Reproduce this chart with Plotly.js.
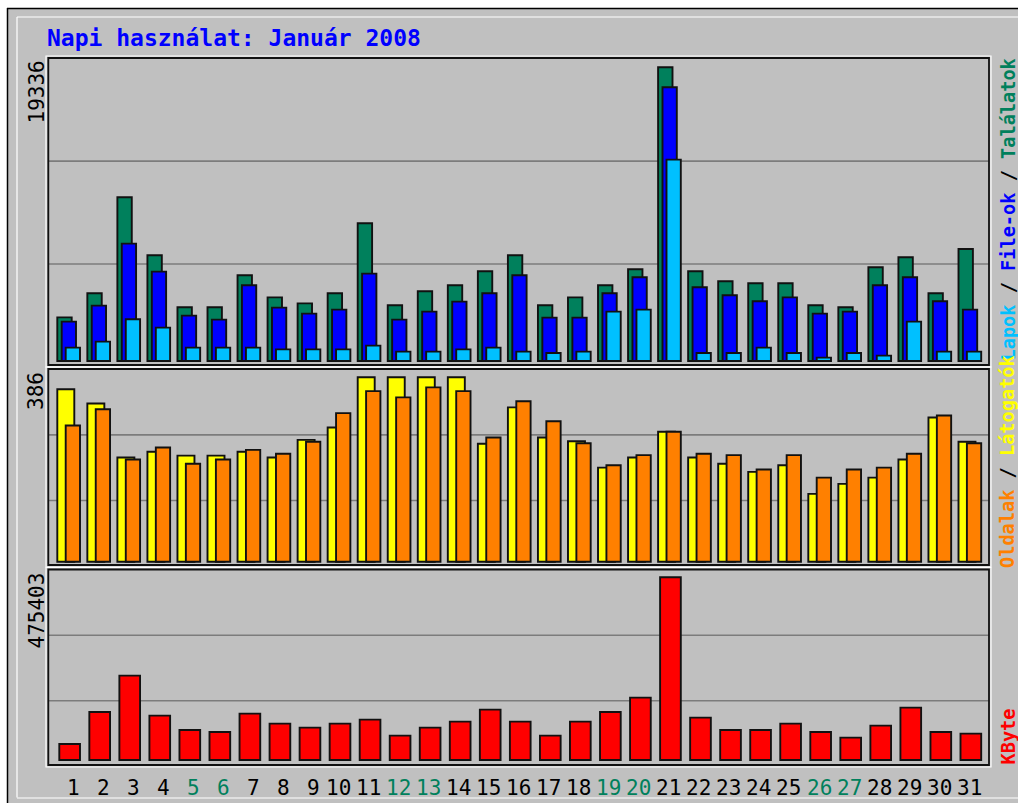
<!DOCTYPE html>
<html>
<head>
<meta charset="utf-8">
<script src="https://cdn.plot.ly/plotly-3.0.1.min.js"></script>
<style>
html,body{margin:0;padding:0;background:#ffffff;}
#chart{width:1018px;height:803px;}
</style>
</head>
<body>
<div id="chart"></div>
<script>
// ---------------- DATA ----------------
const titleText = "Napi használat: Január 2008";
const days = [1,2,3,4,5,6,7,8,9,10,11,12,13,14,15,16,17,18,19,20,21,22,23,24,25,26,27,28,29,30,31];
const weekendDays = [5,6,12,13,19,20,26,27];
const hits   = [2875,4456,10777,6958,3534,3534,5641,4192,3797,4456,9065,3666,4588,4983,5905,6958,3666,4192,4983,6036,19336,5905,5246,5114,5114,3666,3534,6168,6826,4456,7375];
const files  = [2590,3644,7726,5883,2985,2722,4983,3512,3117,3380,5751,2722,3249,3907,4456,5641,2854,2854,4456,5509,18021,4851,4324,3929,4192,3117,3249,4983,5509,3929,3380];
const pages  = [878,1273,2744,2195,878,878,878,768,768,768,1010,615,615,768,878,615,527,615,3249,3380,13258,527,527,878,527,220,527,351,2590,615,615];
const visits = [361,331,218,230,222,222,230,218,255,281,386,386,386,386,247,323,260,252,197,218,272,218,205,188,202,142,163,176,214,302,251];
const sites  = [285,319,214,239,205,214,234,226,251,311,357,344,365,357,260,336,294,248,202,223,272,226,223,193,223,176,193,197,226,306,248];
const kbytes = [41635,124906,219452,115364,78066,72862,120569,94547,84138,94547,104955,63320,84138,99751,130977,99751,63320,99751,124906,162204,475403,110160,78066,78066,94547,72862,58116,89342,136182,72862,68525];
const labelHits  = ["Lapok","File-ok","Találatok"];
const labelVisit = ["Oldalak","Látogatók"];
const labelKB    = "KByte";

// ---------------- LAYOUT GEOMETRY ----------------
const W = 1018, H = 803;
const mL = 48, mR = 29, mT = 58, mB = 38;
const pW = W - mL - mR, pH = H - mT - mB;
const xp = px => (px - mL) / pW;
const yp = py => (H - mB - py) / pH;

const C = {hits:'#00805c', files:'#0000ff', pages:'#00c0ff', visits:'#ffff00', sites:'#ff8000', kb:'#ff0000'};
const mono = 'DejaVu Sans Mono, Liberation Mono, monospace';

// panels: [topPx, bottomPx, zeroPx, maxPx]
const panels = [
  {top:58,    bot:365, zero:361,   maxPx:67.3,  max:Math.max(...hits)},
  {top:369,   bot:565, zero:561.7, maxPx:377.3, max:Math.max(...visits)},
  {top:569.5, bot:765, zero:760,   maxPx:577.3, max:Math.max(...kbytes)}
];
function rangeFor(p){
  const s = p.max / (p.zero - p.maxPx);
  return [-(p.bot - p.zero) * s, (p.zero - p.top) * s];
}
function domainFor(p){ return [Math.max(0, yp(p.bot)), Math.min(1, yp(p.top))]; }

// x mapping: bar group centre px for day 1 = 70, pitch 30.04 px
const pitch = 30.04;
const xa = 1 - (70 - mL) / pitch;
const xb = xa + pW / pitch;
const u = px => px / pitch;

function bar(y, yaxis, color, offPx, wPx){
  return {type:'bar', x:days, y:y, yaxis:yaxis, offset:u(offPx), width:u(wPx),
    marker:{color:color, opacity:1, line:{color:'#111111', width:1.9}},
    hoverinfo:'skip', showlegend:false};
}

const data = [
  bar(hits,  'y',  C.hits,  -12.7, 14.4),
  bar(files, 'y',  C.files, -8.3,  14.3),
  bar(pages, 'y',  C.pages, -4.3,  14.3),
  bar(visits,'y2', C.visits,-12.7, 17.0),
  bar(sites, 'y2', C.sites, -4.3,  14.3),
  bar(kbytes,'y3', C.kb,    -10.7, 20.7)
];

// ---------------- SHAPES ----------------
const shapes = [];
function pline(x0,y0,x1,y1,color,w,layer){
  shapes.push({type:'line', xref:'paper', yref:'paper', x0:xp(x0), y0:yp(y0), x1:xp(x1), y1:yp(y1),
    line:{color:color, width:w}, layer:layer||'above'});
}
function prect(x0,y0,x1,y1,fill,lineColor,w,layer){
  shapes.push({type:'rect', xref:'paper', yref:'paper', x0:xp(x0), y0:yp(y0), x1:xp(x1), y1:yp(y1),
    fillcolor:fill||'rgba(0,0,0,0)', line:{color:lineColor||'rgba(0,0,0,0)', width:w||0}, layer:layer||'above'});
}
// outer white margin and frame
prect(0,0,7,H,'#ffffff',null,0,'above');
prect(0,0,W,8,'#ffffff',null,0,'above');
pline(7.5,8,7.5,H,'#000000',1.5);
pline(7,8.5,W,8.5,'#000000',1.5);
pline(17,17,W,17,'#ffffff',1.2);
pline(17,17,17,797.5,'#ffffff',1.2);
pline(17,798,W,798,'#ffffff',1.2);

// gridlines + panel borders
const axNames = ['y','y2','y3'];
panels.forEach((p,i)=>{
  [0.329, 0.664].forEach(f=>{
    shapes.push({type:'line', xref:'paper', yref:axNames[i]+' domain', x0:0, x1:1, y0:f, y1:f,
      line:{color:'#7c7c7c', width:1.6}, layer:'below'});
  });
  prect(46, p.top-2, 991, p.bot+2, null, '#ffffff', 1.2, 'above');
  prect(48.3, p.top, 989, p.bot, null, '#111111', 1.8, 'above');
});

// ---------------- ANNOTATIONS ----------------
const ann = [];
ann.push({text:titleText, xref:'paper', yref:'paper', x:xp(45), y:yp(38), xanchor:'left', yanchor:'middle',
  showarrow:false, font:{family:mono, size:23, color:'#0000ff', weight:'bold'}});

panels.forEach(p=>{
  ann.push({text:String(p.max), xref:'paper', yref:'paper', x:xp(36), y:yp(p.top+1), xanchor:'center', yanchor:'top',
    textangle:-90, showarrow:false, font:{family:mono, size:21, color:'#000000'}});
});

const sp = (c,t)=>'<span style="color:'+c+'">'+t+'</span>';
const rightLabels = [
  {text: sp(C.pages,labelHits[0])+' / '+sp(C.files,labelHits[1])+' / '+sp(C.hits,labelHits[2]), bottom:363},
  {text: sp(C.sites,labelVisit[0])+' / '+sp(C.visits,labelVisit[1]), bottom:570},
  {text: sp(C.kb,labelKB), bottom:767}
];
rightLabels.forEach(r=>{
  ann.push({text:r.text, xref:'paper', yref:'paper', x:xp(1007.5), y:yp(r.bottom), xanchor:'center', yanchor:'bottom',
    textangle:-90, showarrow:false, font:{family:mono, size:18.6, color:'#000000', weight:'bold'}});
});

days.forEach(d=>{
  const s = String(d);
  ann.push({text:s, xref:'x', yref:'paper', x:d, y:yp(787.5), xanchor:'center', yanchor:'middle',
    xshift: s.length===1 ? 3 : -2, showarrow:false,
    font:{family:mono, size:21, color: weekendDays.includes(d) ? '#00805c' : '#000000'}});
});

const layout = {
  width:W, height:H,
  margin:{l:mL, r:mR, t:mT, b:mB, pad:0},
  paper_bgcolor:'#c0c0c0', plot_bgcolor:'#c0c0c0',
  barmode:'overlay', showlegend:false, hovermode:false,
  xaxis:{range:[xa,xb], showgrid:false, zeroline:false, showticklabels:false, showline:false, ticks:'', anchor:'y3', fixedrange:true},
  yaxis:{domain:domainFor(panels[0]), range:rangeFor(panels[0]), anchor:'x', showgrid:false, zeroline:false, showticklabels:false, ticks:'', fixedrange:true},
  yaxis2:{domain:domainFor(panels[1]), range:rangeFor(panels[1]), anchor:'x', showgrid:false, zeroline:false, showticklabels:false, ticks:'', fixedrange:true},
  yaxis3:{domain:domainFor(panels[2]), range:rangeFor(panels[2]), anchor:'x', showgrid:false, zeroline:false, showticklabels:false, ticks:'', fixedrange:true},
  shapes:shapes,
  annotations:ann
};

Plotly.newPlot('chart', data, layout, {staticPlot:true, displayModeBar:false});
</script>
</body>
</html>
